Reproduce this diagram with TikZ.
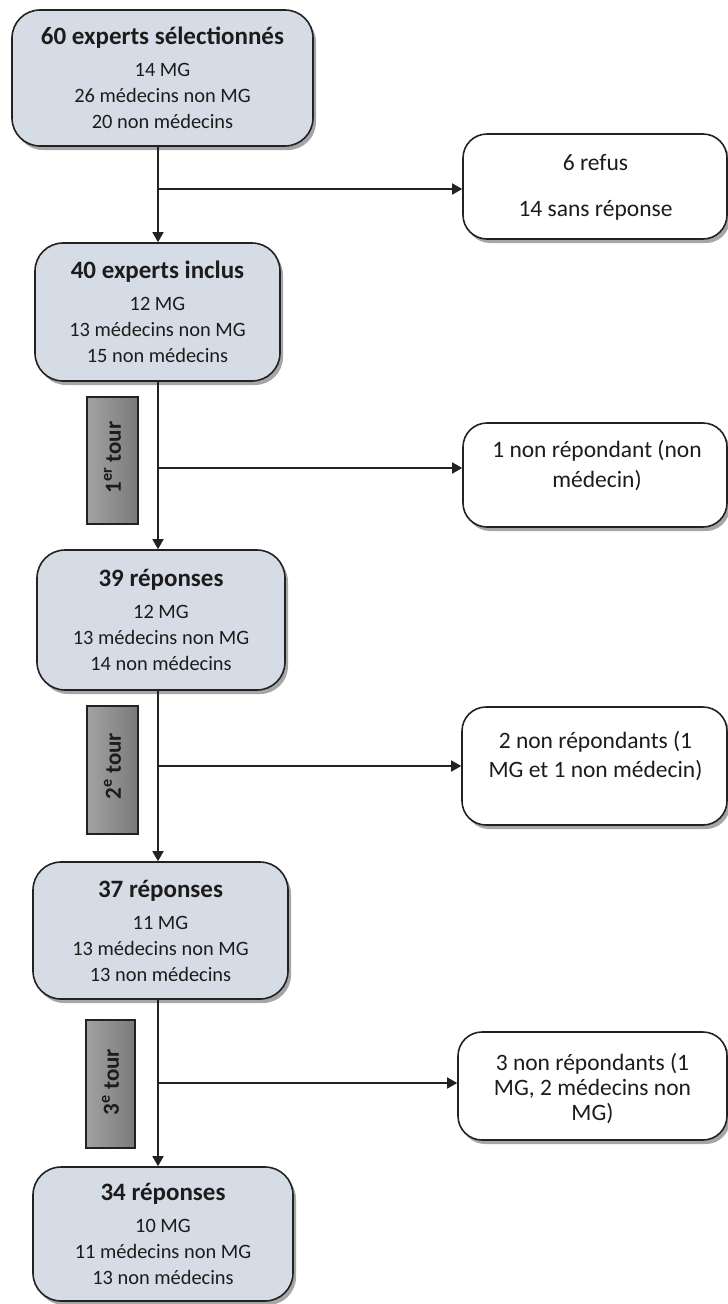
\documentclass[tikz,border=0pt]{standalone}
\usepackage{fontspec}
\setmainfont{Carlito}
\usetikzlibrary{arrows.meta,shadows,calc}
\definecolor{boxfill}{HTML}{D6DCE5}
\definecolor{edge}{HTML}{222222}
\definecolor{ink}{HTML}{1C1C1C}
\definecolor{tourlight}{HTML}{A2A2A2}
\definecolor{tourdark}{HTML}{7A7A7A}
\newcommand{\ttlfont}{\fontsize{25}{30}\selectfont\bfseries}
\begin{document}
\begin{tikzpicture}[x=1pt,y=-1pt,
  shadowed/.style={drop shadow={shadow xshift=3pt,shadow yshift=-4pt,opacity=.35,fill=black}},
  stage/.style={draw=edge,line width=1.6pt,fill=boxfill,rounded corners=28pt,shadowed,
    align=center,text=ink,font=\fontsize{20.4}{26}\selectfont,inner sep=0pt},
  sidebox/.style={draw=edge,line width=1.6pt,fill=white,rounded corners=24pt,shadowed,inner sep=0pt},
  sidetext/.style={align=center,text=ink,inner sep=0pt},
  tourbox/.style={draw=edge,line width=1.4pt,left color=tourlight,right color=tourdark,
    minimum width=51pt,minimum height=127pt,inner sep=0pt},
  tourtext/.style={rotate=90,text=ink,font=\fontsize{23}{28}\selectfont\bfseries,inner sep=0pt},
  flow/.style={draw=edge,line width=1.6pt,-{Triangle[length=10pt,width=11pt]}},
  link/.style={draw=edge,line width=1.6pt}
]
\useasboundingbox (0,0) rectangle (728,1304);

% main column
\node[stage,minimum width=301pt,minimum height=136pt] (b1) at (162.5,78)
  {{\ttlfont 60 experts sélectionnés}\\[6pt]14 MG\\26 médecins non MG\\20 non médecins};
\node[stage,minimum width=245pt,minimum height=138pt] (b2) at (157.5,312)
  {{\ttlfont 40 experts inclus}\\[6pt]12 MG\\13 médecins non MG\\15 non médecins};
\node[stage,minimum width=248pt,minimum height=140pt] (b3) at (161,620)
  {{\ttlfont 39 réponses}\\[6pt]12 MG\\13 médecins non MG\\14 non médecins};
\node[stage,minimum width=255pt,minimum height=137pt] (b4) at (160.5,930.5)
  {{\ttlfont 37 réponses}\\[6pt]11 MG\\13 médecins non MG\\13 non médecins};
\node[stage,minimum width=260pt,minimum height=134pt] (b5) at (163,1234)
  {{\ttlfont 34 réponses}\\[6pt]10 MG\\11 médecins non MG\\13 non médecins};

% side boxes
\node[sidebox,minimum width=264pt,minimum height=105pt] (r1) at (595,186.5) {};
\node[sidetext,font=\fontsize{23.5}{28}\selectfont] (r1t) at (595.5,187)
  {6 refus\\[18pt]14 sans réponse};
\node[sidebox,minimum width=264pt,minimum height=104pt] (r2) at (595,475) {};
\node[sidetext,font=\fontsize{23.5}{30}\selectfont] (r2t) at (597,466)
  {1 non répondant (non\\médecin)};
\node[sidebox,minimum width=265pt,minimum height=118pt] (r3) at (594.5,766) {};
\node[sidetext,font=\fontsize{23.5}{29}\selectfont] (r3t) at (595.5,756.5)
  {2 non répondants (1\\MG et 1 non médecin)};
\node[sidebox,minimum width=269pt,minimum height=108pt] (r4) at (592.5,1086) {};
\node[sidetext,font=\fontsize{23.5}{25}\selectfont] (r4t) at (592.5,1089)
  {3 non répondants (1\\MG, 2 médecins non\\MG)};

% tour boxes
\node[tourbox] (t1) at (112.5,460.5) {};
\node[tourtext] (t1t) at ([yshift=3pt]t1.center) {1\textsuperscript{er} tour};
\node[tourbox,minimum height=128pt] (t2) at (112.5,770) {};
\node[tourtext] (t2t) at ([yshift=4pt]t2.center) {2\textsuperscript{e} tour};
\node[tourbox,minimum width=49pt,minimum height=128pt] (t3) at (110.5,1084) {};
\node[tourtext] (t3t) at ([yshift=2pt]t3.center) {3\textsuperscript{e} tour};

% connectors
\coordinate (spine) at (158,0);
\draw[flow] (b1.south -| spine) -- (b2.north -| spine);
\draw[flow] (b2.south -| spine) -- (b3.north -| spine);
\draw[flow] (b3.south -| spine) -- (b4.north -| spine);
\draw[flow] (b4.south -| spine) -- (b5.north -| spine);

\coordinate (j1) at (158,189);
\coordinate (j2) at (158,468);
\coordinate (j3) at (158,766);
\coordinate (j4) at (158,1083);
\draw[flow] (j1) -- (j1 -| r1.west);
\draw[flow] (j2) -- (j2 -| r2.west);
\draw[flow] (j3) -- (j3 -| r3.west);
\draw[flow] (j4) -- (j4 -| r4.west);
\end{tikzpicture}
\end{document}
